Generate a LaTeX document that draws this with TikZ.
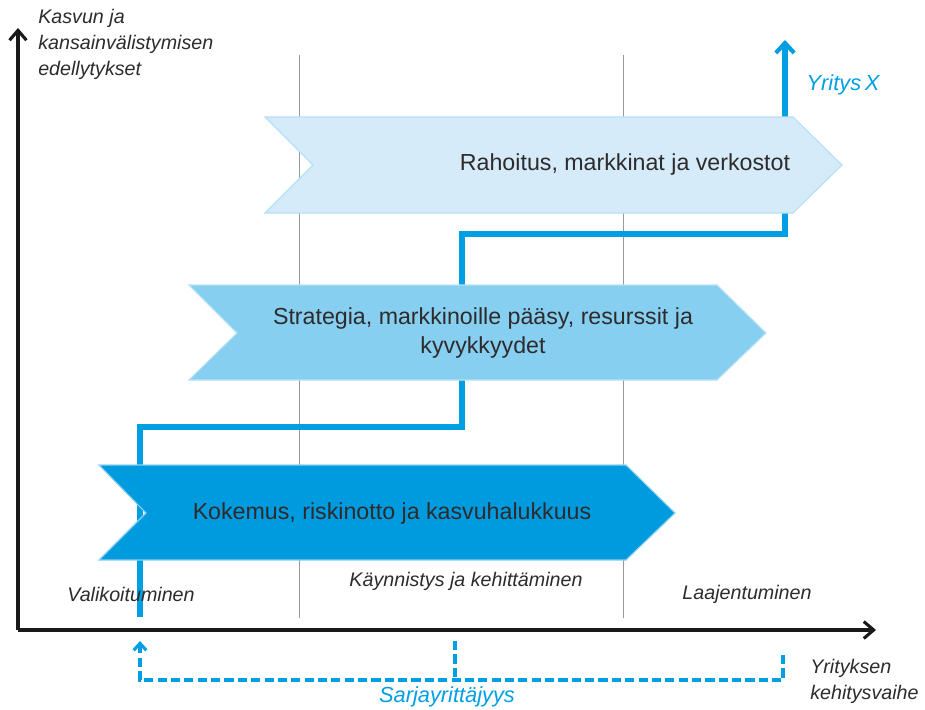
\documentclass[tikz,border=0pt]{standalone}
\usepackage{fontspec}
\setmainfont{Liberation Sans}
\usetikzlibrary{arrows.meta}

\definecolor{stepblue}{HTML}{009FE3}
\definecolor{darkfill}{HTML}{009ADF}
\definecolor{midfill}{HTML}{86CFF0}
\definecolor{lightfill}{HTML}{D5EBF9}
\definecolor{textgray}{HTML}{2E2B2C}

\tikzset{
    axisline/.style={line width=2.2pt, black!90, -{Straight Barb[length=7pt, width=12pt, line width=2.2pt]}},
    stageline/.style={gray!80, line width=0.7pt},
    stepline/.style={stepblue, line width=3.7pt},
    dashline/.style={stepblue, line width=2.6pt, dash pattern=on 6.5pt off 3pt},
    chevtext/.style={text=textgray, font=\fontsize{16.5}{20}\selectfont, align=center},
    axislabel/.style={text=textgray, font=\fontsize{14}{18.5}\selectfont\itshape, inner sep=0pt, align=left},
    stagelabel/.style={text=textgray, font=\fontsize{14}{17}\selectfont\itshape},
    bluelabel/.style={text=stepblue, font=\fontsize{15.5}{18}\selectfont\itshape}
}

\begin{document}
\begin{tikzpicture}[x=0.025cm, y=-0.025cm]
        \useasboundingbox (0,0) rectangle (925,709);

        % stage borders
        \draw[stageline] (299,55) -- (299,618);
        \draw[stageline] (623,55) -- (623,618);

        % axes
        \coordinate (origin) at (18,630);
        \coordinate (ytop) at (18,28);
        \coordinate (xend) at (876,630);
        \draw[axisline] (origin) -- (ytop);
        \draw[axisline] (origin) -- (xend);

        % company path
        \coordinate (p0) at (140,617);
        \coordinate (p1) at (140,427);
        \coordinate (p2) at (462,427);
        \coordinate (p3) at (462,234);
        \coordinate (p4) at (785,234);
        \coordinate (p5) at (785,40);
        \draw[stepline, -{Straight Barb[length=7pt, width=13pt, line width=3pt]}] (p0) -- (p1) -- (p2) -- (p3) -- (p4) -- (p5);

        % chevrons
        \filldraw[fill=lightfill, draw=lightfill!85!stepblue, line width=0.8pt] (265,117) -- (793,117) -- (842,165) -- (793,213) -- (265,213) -- (313,165) -- cycle;
        \filldraw[fill=midfill, draw=midfill!60!white, line width=0.8pt] (189,285) -- (717,285) -- (766,333) -- (717,380) -- (189,380) -- (237,333) -- cycle;
        \filldraw[fill=darkfill, draw=darkfill!45!white, line width=0.8pt] (99,465) -- (626,465) -- (675,513) -- (626,560) -- (99,560) -- (146,513) -- cycle;

        \node[chevtext] (rahoitus) at (625,165) {Rahoitus, markkinat ja verkostot};
        \node[chevtext] (strategia) at (483,333) {Strategia, markkinoille pääsy, resurssit ja\\kyvykkyydet};
        \node[chevtext] (kokemus) at (392,513) {Kokemus, riskinotto ja kasvuhalukkuus};

        % serial entrepreneurship
        \coordinate (d0) at (783,655);
        \coordinate (d1) at (783,680);
        \coordinate (d2) at (140,680);
        \coordinate (d3) at (140,641);
        \coordinate (m0) at (455,641);
        \coordinate (m1) at (455,680);
        \draw[dashline, -{Straight Barb[length=5pt, width=9pt, line width=2.2pt]}] (d0) -- (d1) -- (d2) -- (d3);
        \draw[dashline] (m0) -- (m1);

        % labels
        \node[axislabel, anchor=north west] (ylabel) at (38,9) {Kasvun ja\\kansainvälistymisen\\edellytykset};
        \node[axislabel, anchor=north west] (xlabel) at (810,659) {Yrityksen\\kehitysvaihe};
        \node[stagelabel] (valikoituminen) at (131,594) {Valikoituminen};
        \node[stagelabel] (kaynnistys) at (466,581) {Käynnistys ja kehittäminen};
        \node[stagelabel] (laajentuminen) at (747,594) {Laajentuminen};
        \node[bluelabel] (yritys) at (843,85) {Yritys\,X};
        \node[bluelabel] (sarja) at (447,697) {Sarjayrittäjyys};
    \end{tikzpicture}
\end{document}
